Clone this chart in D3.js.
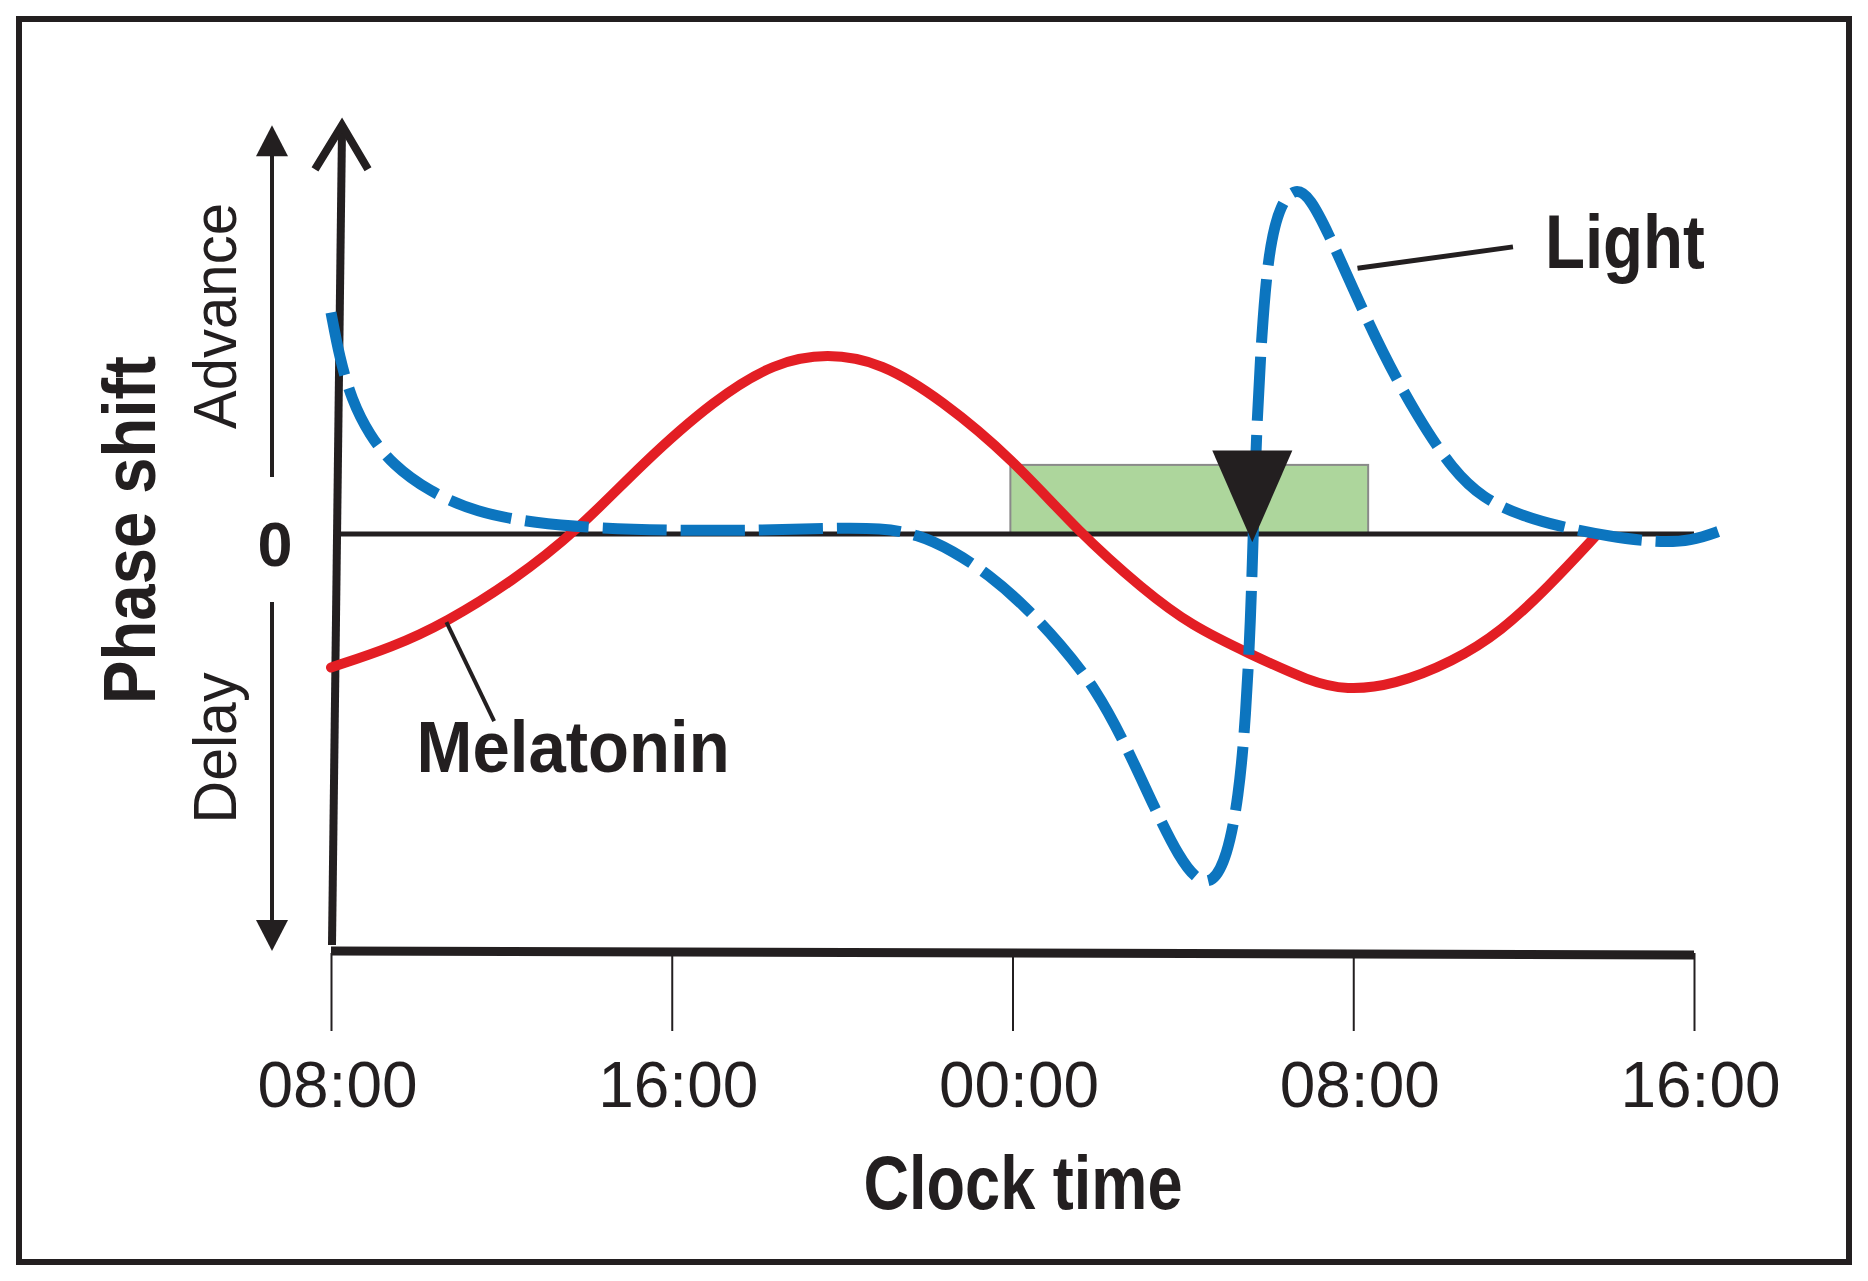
<!DOCTYPE html>
<meta charset="utf-8">
<script src="https://d3js.org/d3.v7.min.js"></script>
<style type="text/css">
body { margin: 0; background: #fff; }
text { font-family: "Liberation Sans", Arial, sans-serif; fill: #231f20; }
.axis path { display: none; }
.axis line { stroke: #231f20; stroke-width: 2; }
</style>
<body>
<script>

// hours after 08:00 on day one
var tickHours = [0, 8, 16, 24, 32];
var tickLabels = ["08:00", "16:00", "00:00", "08:00", "16:00"];

// melatonin phase response curve (hours, phase shift)
var melHours = [0, 1.45, 2.71, 4.25, 5.79, 7.33, 9.01, 10.41, 11.66, 12.92, 14.32, 16.0, 17.54, 19.08, 20.2, 21.59, 22.99, 23.83, 24.95, 26.35, 27.47, 28.59, 29.71];
var melShift = [-1.12, -0.95, -0.74, -0.4, 0.03, 0.6, 1.13, 1.44, 1.52, 1.44, 1.13, 0.63, 0.02, -0.47, -0.77, -1.01, -1.24, -1.31, -1.27, -1.07, -0.82, -0.44, -0.01];

// light phase response curve
var lightHours = [0, 0.2, 0.48, 0.9, 1.45, 2.29, 3.41, 4.81, 6.21, 7.89, 10.13, 11.8, 12.92, 13.76, 14.6, 15.44, 16.28, 17.12, 17.96, 18.66, 19.36, 19.92, 20.34, 20.7, 21.03, 21.31, 21.48, 21.59, 21.65, 21.73, 21.85, 22.01, 22.29, 22.66, 22.99, 23.41, 23.97, 24.67, 25.51, 26.35, 27.05, 27.89, 28.87, 29.99, 31.1, 31.94, 32.64];
var lightShift = [1.86, 1.48, 1.13, 0.83, 0.58, 0.36, 0.18, 0.09, 0.05, 0.03, 0.03, 0.05, 0.05, 0.0, -0.14, -0.34, -0.6, -0.92, -1.3, -1.77, -2.32, -2.72, -2.91, -2.93, -2.72, -2.22, -1.52, -0.72, -0.02, 0.88, 1.68, 2.38, 2.78, 2.91, 2.82, 2.53, 2.08, 1.53, 0.98, 0.53, 0.3, 0.16, 0.06, -0.02, -0.07, -0.06, 0.03];

// sleep window and core body temperature minimum
var sleepWindow = [15.95, 24.35];
var sleepHeight = 0.58;
var cbtMin = 21.63;

var width = 1868, height = 1281;

var x = d3.scaleLinear().domain([0, 32]).range([331, 1694]);
var y = d3.scaleLinear().domain([-3.5, 3.5]).range([951, 117]);

var svg = d3.select("body").append("svg")
    .attr("width", width)
    .attr("height", height);

// frame
svg.append("rect")
    .attr("x", 19).attr("y", 19)
    .attr("width", 1830).attr("height", 1243)
    .style("fill", "none").style("stroke", "#231f20").style("stroke-width", 6);

// sleep box
svg.append("rect")
    .attr("x", x(sleepWindow[0]))
    .attr("y", y(sleepHeight))
    .attr("width", x(sleepWindow[1]) - x(sleepWindow[0]))
    .attr("height", y(0) - y(sleepHeight))
    .style("fill", "#add69c").style("stroke", "#8a8a8a").style("stroke-width", 2);

// zero line
svg.append("line")
    .attr("x1", x(0.2)).attr("x2", x(32))
    .attr("y1", y(0)).attr("y2", y(0))
    .style("stroke", "#231f20").style("stroke-width", 5);

// x axis
var xAxis = d3.axisBottom(x).tickValues(tickHours)
    .tickFormat(function(d, i) { return tickLabels[i]; })
    .tickSize(78);
var gx = svg.append("g").attr("class", "axis")
    .attr("transform", "translate(0," + (y(-3.5) + 2) + ")")
    .call(xAxis);
gx.selectAll("text")
    .attr("y", 154).attr("dy", 0)
    .attr("dx", 6)
    .style("font-size", "64px")
    .attr("textLength", 160).attr("lengthAdjust", "spacingAndGlyphs");

// thick bottom axis bar
svg.append("line")
    .attr("x1", x(0)).attr("y1", y(-3.5))
    .attr("x2", x(32)).attr("y2", y(-3.5) + 4)
    .style("stroke", "#231f20").style("stroke-width", 9);

// y axis with open arrow
var axTop = y(3.43);
svg.append("line")
    .attr("x1", x(0) + 1).attr("y1", y(-3.45))
    .attr("x2", x(0) + 11).attr("y2", axTop + 4)
    .style("stroke", "#231f20").style("stroke-width", 8);
svg.append("path")
    .attr("d", "M" + (x(0) - 16) + "," + (axTop + 44) + "L" + (x(0) + 11) + "," + axTop + "L" + (x(0) + 37) + "," + (axTop + 44))
    .style("fill", "none").style("stroke", "#231f20").style("stroke-width", 8)
    .style("stroke-linejoin", "miter");

// advance / delay arrows
var ax = 272;
svg.append("line").attr("x1", ax).attr("x2", ax).attr("y1", 477).attr("y2", y(3.43) + 25)
    .style("stroke", "#231f20").style("stroke-width", 4);
svg.append("path").attr("d", "M" + (ax - 16) + "," + (y(3.43) + 31) + "L" + ax + "," + y(3.43) + "L" + (ax + 16) + "," + (y(3.43) + 31) + "Z")
    .style("fill", "#231f20");
svg.append("line").attr("x1", ax).attr("x2", ax).attr("y1", 602).attr("y2", y(-3.5) - 25)
    .style("stroke", "#231f20").style("stroke-width", 4);
svg.append("path").attr("d", "M" + (ax - 16) + "," + (y(-3.5) - 31) + "L" + ax + "," + y(-3.5) + "L" + (ax + 16) + "," + (y(-3.5) - 31) + "Z")
    .style("fill", "#231f20");

// curves
var line = d3.line()
    .x(function(d) { return x(d[0]); })
    .y(function(d) { return y(d[1]); })
    .curve(d3.curveBasis);

svg.append("path")
    .datum(d3.zip(melHours, melShift))
    .attr("d", line)
    .style("fill", "none").style("stroke", "#e31e24").style("stroke-width", 10)
    .style("stroke-linecap", "round");

svg.append("path")
    .datum(d3.zip(lightHours, lightShift))
    .attr("d", line)
    .style("fill", "none").style("stroke", "#0c75bf").style("stroke-width", 11)
    .style("stroke-dasharray", "64,14");

// CBT min marker
svg.append("path")
    .attr("d", "M" + x(cbtMin - 0.94) + "," + y(0.7) + "L" + x(cbtMin + 0.94) + "," + y(0.7) + "L" + x(cbtMin) + "," + y(-0.07) + "Z")
    .style("fill", "#231f20");

// leader lines
svg.append("line")
    .attr("x1", x(24.1)).attr("y1", y(2.23))
    .attr("x2", x(27.75)).attr("y2", y(2.41))
    .style("stroke", "#231f20").style("stroke-width", 5);
svg.append("line")
    .attr("x1", x(2.71)).attr("y1", y(-0.74))
    .attr("x2", x(3.83)).attr("y2", y(-1.57))
    .style("stroke", "#231f20").style("stroke-width", 4);

// labels
svg.append("text")
    .attr("x", x(28.5)).attr("y", y(2.23))
    .style("font-size", "76px").style("font-weight", "bold")
    .attr("textLength", 160).attr("lengthAdjust", "spacingAndGlyphs")
    .text("Light");
svg.append("text")
    .attr("x", x(2.01)).attr("y", y(-2.0))
    .style("font-size", "73px").style("font-weight", "bold")
    .attr("textLength", 313).attr("lengthAdjust", "spacingAndGlyphs")
    .text("Melatonin");

svg.append("text")
    .attr("x", 275).attr("y", 566)
    .style("font-size", "63px").style("font-weight", "bold")
    .style("text-anchor", "middle")
    .text("0");

svg.append("text")
    .attr("transform", "translate(236,316) rotate(-90)")
    .style("font-size", "62px").style("text-anchor", "middle")
    .attr("textLength", 226).attr("lengthAdjust", "spacingAndGlyphs")
    .text("Advance");
svg.append("text")
    .attr("transform", "translate(236,748) rotate(-90)")
    .style("font-size", "62px").style("text-anchor", "middle")
    .attr("textLength", 151).attr("lengthAdjust", "spacingAndGlyphs")
    .text("Delay");
svg.append("text")
    .attr("transform", "translate(155,530) rotate(-90)")
    .style("font-size", "74px").style("font-weight", "bold").style("text-anchor", "middle")
    .attr("textLength", 348).attr("lengthAdjust", "spacingAndGlyphs")
    .text("Phase shift");

svg.append("text")
    .attr("x", 1023).attr("y", 1209)
    .style("font-size", "76px").style("font-weight", "bold").style("text-anchor", "middle")
    .attr("textLength", 319).attr("lengthAdjust", "spacingAndGlyphs")
    .text("Clock time");

</script>
</body>
</html>
